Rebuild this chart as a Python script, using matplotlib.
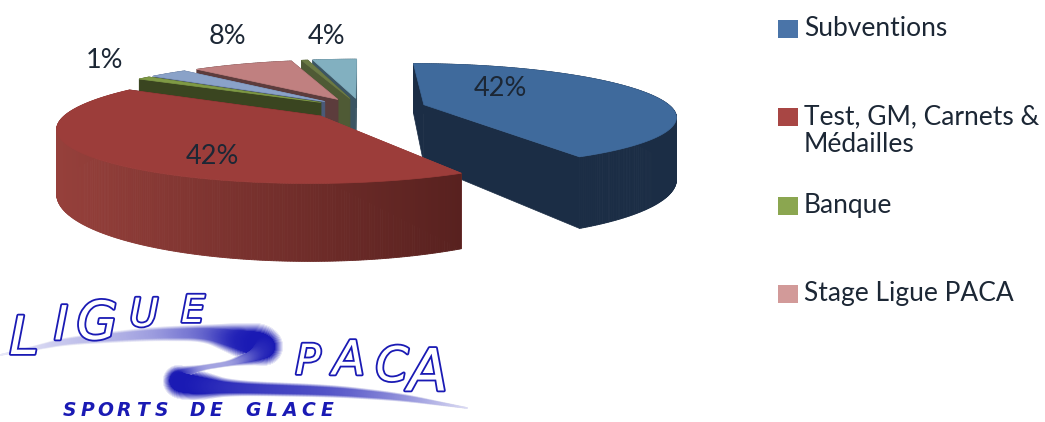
import matplotlib
matplotlib.use('Agg')
import matplotlib.pyplot as plt
from matplotlib.collections import LineCollection
from matplotlib.patches import Rectangle
import matplotlib.patheffects as pe
import numpy as np

# slices, clockwise from 12 o'clock
values = [42, 42, 1, 3, 8, 0.5, 3.5]
pct_labels = ['42%', '42%', '1%', '', '8%', '', '4%']
explode = [0.265, 0.22, 0.2, 0.2, 0.2, 0.2, 0.2]
top_colors = ['#3f6a9c', '#9c3d3a', '#7f9a45', '#8aa2c8', '#c08080', '#6b7a45', '#82b0c0']
wall_left = ['#1b2d45', '#96403b', '#3a4520', '#4a5a78', '#5c3c3c', '#4f5a35', '#3b5563']
wall_right = ['#1b2d45', '#58211f', '#3a4520', '#4a5a78', '#5c3c3c', '#4f5a35', '#3b5563']
label_pos = [(500, 88), (212, 156), (105, 61), None, (227, 37), None, (327, 37)]
draw_order = [6, 5, 4, 3, 2, 0, 1]

legend_names = ['Subventions', 'Test, GM, Carnets &\nMédailles', 'Banque', 'Stage Ligue PACA']
legend_colors = ['#4a74a8', '#a84644', '#8ba650', '#d29a99']
legend_y = [29, 117, 206, 294]

# logo swoosh centre line (px), its width and how pale it is
swoosh_x = [0, 30, 67, 150, 205, 240, 258, 266, 255, 232, 200, 178, 178, 195, 230, 333, 400, 467]
swoosh_y = [355, 349, 341, 334, 333, 340, 344, 347, 355, 363, 368, 376, 382, 385, 388, 391, 397, 408]
swoosh_w = [1, 3, 6, 10, 12, 24, 30, 26, 14, 4, 4, 14, 24, 22, 11, 9, 6, 1]
swoosh_pale = [0.9, 0.85, 0.75, 0.6, 0.35, 0.05, 0, 0, 0.1, 0.6, 0.6, 0.1, 0, 0, 0.1, 0.25, 0.5, 0.85]
logo_top = ['L', 'I', 'G', 'U', 'E']
logo_top_x = [24, 61, 97, 144, 193]
logo_top_y = [339, 327, 324, 315, 312]
logo_top_size = [38, 34, 38, 28, 27]
logo_pac = ['P', 'A', 'C', 'A']
logo_pac_x = [308, 349, 392, 428]
logo_pac_y = [362, 362, 368, 374]
logo_pac_size = [30, 34, 34, 42]
logo_sub = 'SPORTS DE GLACE'

# perspective of the pie plane
CX, CY = 361, 108
A, B, K, THICK = 248, 50.5, 0.2, 60

plt.rcParams['font.family'] = ['Lato', 'DejaVu Sans']
text_col = '#1c2735'
logo_col = '#1a1ab4'


def project(u, v, z=0.0):
    w = 1 + K * v
    return CX + A * u / w, CY - B * v / w + z * THICK / w


fig = plt.figure(figsize=(10.45, 4.22), dpi=100)
ax = fig.add_axes([0, 0, 1, 1])
ax.set_xlim(0, 1045)
ax.set_ylim(422, 0)
ax.axis('off')

edges = np.concatenate([[0], np.cumsum(values)]) / sum(values) * 360

for i in draw_order:
    a0, a1 = edges[i], edges[i + 1]
    mid = np.radians((a0 + a1) / 2)
    ou, ov = explode[i] * np.sin(mid), explode[i] * np.cos(mid)
    th = np.radians(np.linspace(a0, a1, max(int(a1 - a0) * 2, 4)))
    ru, rv = ou + np.sin(th), ov + np.cos(th)
    xt, yt = project(ru, rv)
    xb, yb = project(ru, rv, 1)
    ax_, ay_ = project(ou, ov)
    ax_b, ay_b = project(ou, ov, 1)

    # radial walls
    for k in (-1, 0):
        ax.fill([ax_, xt[k], xb[k], ax_b], [ay_, yt[k], yb[k], ay_b],
                color=wall_left[i] if k == 0 else wall_right[i], lw=0.5)
    # rim wall, shaded from left to right
    c0 = np.array(matplotlib.colors.to_rgb(wall_left[i]))
    c1 = np.array(matplotlib.colors.to_rgb(wall_right[i]))
    for j in range(len(th) - 1):
        f = np.clip((xt[j] - xt.min()) / (xt.max() - xt.min()), 0, 1)
        col = c0 + (c1 - c0) * f
        ax.fill([xt[j], xt[j + 1], xb[j + 1], xb[j]], [yt[j], yt[j + 1], yb[j + 1], yb[j]],
                color=col, lw=0.6)
    # top face
    ax.fill(np.r_[ax_, xt], np.r_[ay_, yt], color=top_colors[i], lw=0.5)

for lab, pos in zip(pct_labels, label_pos):
    if pos is not None:
        ax.text(pos[0], pos[1], lab, fontsize=19.5, color=text_col, ha='center', va='center')

# legend
for name, col, y in zip(legend_names, legend_colors, legend_y):
    ax.add_patch(Rectangle((778, y - 9), 20, 18, facecolor=col, edgecolor='none'))
    ax.text(804, y - 13, name, fontsize=19, color=text_col, ha='left', va='top', linespacing=1.13)

# logo swoosh: pale wide strokes first, dark narrow one last
s = np.linspace(0, len(swoosh_x) - 1, 500)
idx = np.arange(len(swoosh_x))
kernel = np.ones(21) / 21
curves = []
for arr in (swoosh_x, swoosh_y, swoosh_w, swoosh_pale):
    c = np.interp(s, idx, arr)
    c[10:-10] = np.convolve(c, kernel, mode='valid')
    curves.append(c)
sx, sy, sw, sp = curves
pts = np.column_stack([sx, sy]).reshape(-1, 1, 2)
segs = np.concatenate([pts[:-1], pts[1:]], axis=1)
base = np.array(matplotlib.colors.to_rgb(logo_col))
for scale, strength in zip(np.linspace(1.4, 0.8, 9), np.linspace(0.1, 1.0, 9)):
    amount = ((1 - sp[:-1]) * strength)[:, None]
    cols = base * amount + (1 - amount)
    ax.add_collection(LineCollection(segs, linewidths=sw[:-1] * scale * 0.72, colors=cols,
                                     capstyle='round'))

hollow = [pe.withStroke(linewidth=2.6, foreground=logo_col)]
for ch, x, y, size in zip(logo_top, logo_top_x, logo_top_y, logo_top_size):
    ax.text(x, y, ch, fontsize=size, family='DejaVu Sans', style='italic', color='white',
            ha='center', va='center', path_effects=hollow)
for ch, x, y, size in zip(logo_pac, logo_pac_x, logo_pac_y, logo_pac_size):
    ax.text(x, y, ch, fontsize=size, family='DejaVu Sans', style='italic', color='white',
            ha='center', va='center', path_effects=hollow)
for n, ch in enumerate(logo_sub):
    ax.text(69 + n * 18.4, 411, ch, fontsize=13.5, family='DejaVu Sans', style='italic',
            weight='bold', color=logo_col, ha='center', va='center')

fig.savefig('out.png', dpi=100)
